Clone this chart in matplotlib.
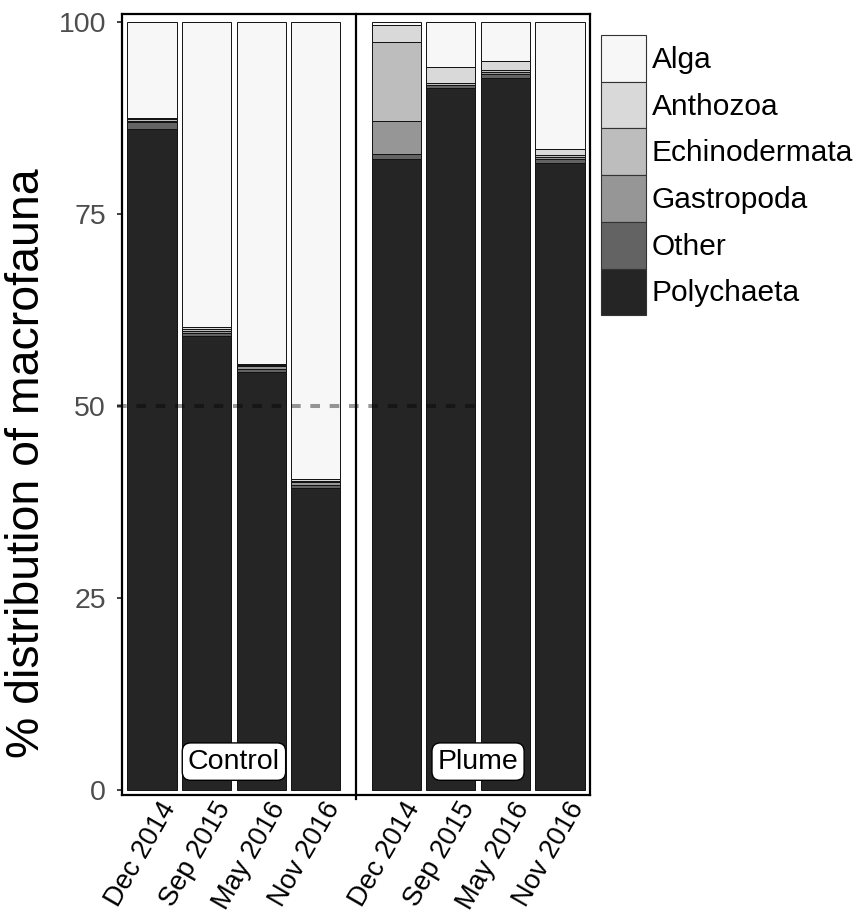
import matplotlib
matplotlib.use("Agg")
import matplotlib.pyplot as plt
from matplotlib.patches import Patch
from matplotlib.transforms import ScaledTranslation
import numpy as np

plt.rcParams['font.family'] = ['Liberation Sans', 'DejaVu Sans']

sites = ["Control", "Plume"]
dates = ["Dec 2014", "Sep 2015", "May 2016", "Nov 2016"]
taxa = ["Alga", "Anthozoa", "Echinodermata", "Gastropoda", "Other", "Polychaeta"]
colors = ["#f7f7f7", "#d9d9d9", "#bdbdbd", "#969696", "#636363", "#252525"]

# percentages per taxon, order: Control (4 dates) then Plume (4 dates)
polychaeta    = [86.1, 59.1, 54.5, 39.3, 82.2, 91.4, 92.7, 81.7]
other         = [0.9, 0.5, 0.4, 0.5, 0.6, 0.4, 0.6, 0.5]
gastropoda    = [0.2, 0.2, 0.3, 0.3, 4.3, 0.1, 0.2, 0.3]
echinodermata = [0.2, 0.2, 0.2, 0.2, 10.3, 0.2, 0.3, 0.2]
anthozoa      = [0.1, 0.3, 0.1, 0.2, 2.3, 2.1, 1.2, 0.8]
alga          = [12.5, 39.7, 44.5, 59.5, 0.3, 5.8, 5.0, 16.5]

stack = {"Polychaeta": polychaeta, "Other": other, "Gastropoda": gastropoda,
         "Echinodermata": echinodermata, "Anthozoa": anthozoa, "Alga": alga}

W, H = 855, 913
fig = plt.figure(figsize=(W/100, H/100), dpi=100)
ax = fig.add_axes([122/W, 1-795/H, (590-122)/W, (795-14)/H])

group_offset = [0.0, 4.47]
xpos = np.array([group_offset[g] + i for g in range(2) for i in range(4)])

bottom = np.zeros(8)
for name in ["Polychaeta", "Other", "Gastropoda", "Echinodermata", "Anthozoa", "Alga"]:
    vals = np.array(stack[name])
    col = colors[taxa.index(name)]
    ax.bar(xpos, vals, bottom=bottom, width=0.9, color=col, edgecolor="#111111",
           linewidth=0.7, zorder=2)
    bottom += vals

ax.set_xlim(-0.55, 8.02)
ax.set_ylim(-0.65, 101.1)

# divider between sites
ax.plot([3.736, 3.736], [-1.2, 101.1], color="black", lw=1.6, clip_on=False, zorder=4)

# dashed 50% line
ax.plot([-0.64, 6.0], [50, 50], color="black", alpha=0.4, lw=2.9,
        dashes=(2.4, 2.4), zorder=3, clip_on=False)

# site labels
for g, s in enumerate(sites):
    ax.text(group_offset[g] + 1.5, 3.7, s, ha="center", va="center", fontsize=20.5,
            zorder=5, bbox=dict(boxstyle="round,pad=0.2,rounding_size=0.3",
                                fc="white", ec="black", lw=1.0))

ax.set_yticks([0, 25, 50, 75, 100])
ax.set_yticklabels(["0", "25", "50", "75", "100"], fontsize=20.5, color="#4d4d4d")
ax.tick_params(axis="y", length=3.6, width=1.3, color="#333333", pad=8)
ax.set_xticks(xpos)
ax.set_xticklabels(dates * 2, rotation=60, ha="right", va="top",
                   rotation_mode="anchor", fontsize=19.5, color="black")
ax.tick_params(axis="x", length=0, pad=3)
shift = ScaledTranslation(7/100, 2/100, fig.dpi_scale_trans)
for lab in ax.get_xticklabels():
    lab.set_transform(lab.get_transform() + shift)

for sp in ax.spines.values():
    sp.set_linewidth(1.6)
    sp.set_color("black")

fig.text(27/W, 1-463/H, "% distribution of macrofauna", rotation=90,
         ha="center", va="center", fontsize=33.5)

handles = [Patch(facecolor=c, edgecolor="#333333", linewidth=0.8) for c in colors]
fig.legend(handles, taxa, loc="upper left", bbox_to_anchor=(601/W, 1-35/H),
           frameon=False, fontsize=21.5, handlelength=1.5, handleheight=2.03,
           labelspacing=0.0, handletextpad=0.2, borderpad=0, borderaxespad=0)

fig.savefig("out.png", dpi=100)
